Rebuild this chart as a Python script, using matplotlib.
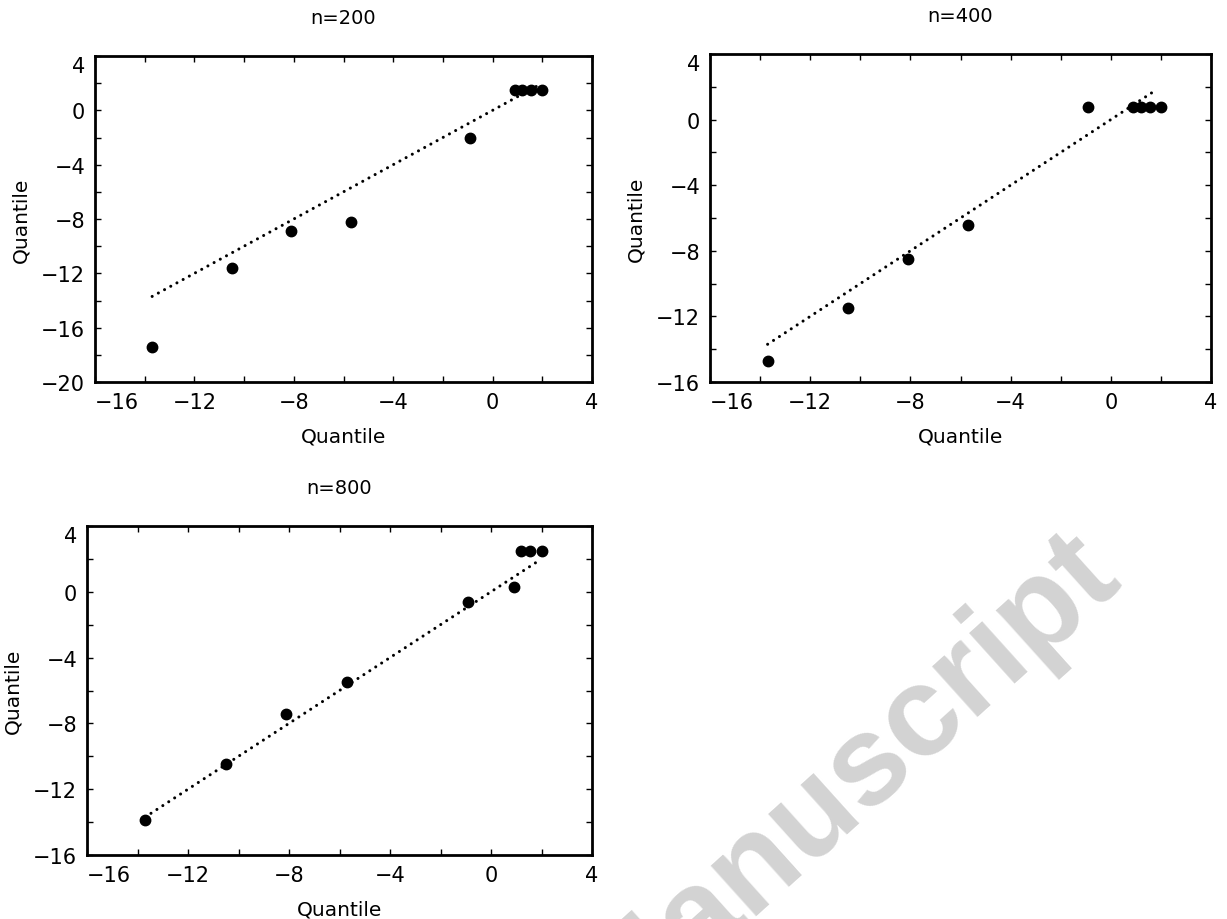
import matplotlib
matplotlib.use("Agg")
import matplotlib.pyplot as plt
from matplotlib.ticker import MultipleLocator

# ---- data ----
titles = ["n=200", "n=400", "n=800"]
x_q = [-13.7, -10.5, -8.1, -5.7, -0.9, 0.9, 1.2, 1.55, 2.0]
y_n200 = [-17.4, -11.6, -8.9, -8.2, -2.0, 1.5, 1.5, 1.5, 1.5]
y_n400 = [-14.7, -11.5, -8.5, -6.4, 0.75, 0.75, 0.75, 0.75, 0.75]
y_n800 = [-13.9, -10.45, -7.4, -5.5, -0.65, 0.3, 2.5, 2.5, 2.5]
ref_line = [-13.7, 1.85]
ylims = [(-20, 4), (-16, 4), (-16, 4)]
xlim = (-16, 4)
xticks = [-16, -12, -8, -4, 0, 4]

plt.rcParams['font.family'] = ['DejaVu Sans']

fig = plt.figure(figsize=(12.27, 9.2), dpi=100)
W, H = 1227, 920
boxes = [(95, 592, 57, 383), (710, 1211, 55, 383), (87, 592, 527, 856)]
ys = [y_n200, y_n400, y_n800]

for (l, r, t, b), title, yv, yl in zip(boxes, titles, ys, ylims):
    ax = fig.add_axes([l / W, 1 - b / H, (r - l) / W, (b - t) / H])
    ax.plot(ref_line, ref_line, color='black', lw=2.2,
            dashes=(0.01, 2.3), dash_capstyle='round')
    ax.plot(x_q, yv, 'o', color='black', ms=7.5, zorder=3)
    ax.set_xlim(*xlim)
    ax.set_ylim(*yl)
    ax.set_xticks(xticks)
    ax.set_yticks(list(range(yl[0], yl[1] + 1, 4)))
    ax.xaxis.set_minor_locator(MultipleLocator(2))
    ax.yaxis.set_minor_locator(MultipleLocator(2))
    ax.tick_params(which='both', direction='in', top=True, right=True,
                   length=4, width=1.0, labelsize=15, pad=7)
    for s in ax.spines.values():
        s.set_linewidth(2)
    ax.set_title(title, fontsize=14, pad=24)
    ax.set_xlabel("Quantile", fontsize=14.5, labelpad=11)
    ax.set_ylabel("Quantile", fontsize=14.5, labelpad=8)
    # corner labels pushed inside like the reference
    ax.xaxis.get_major_ticks()[0].label1.set_horizontalalignment('left')
    ax.yaxis.get_major_ticks()[-1].label1.set_verticalalignment('top')

# watermark
fig.text(1125 / W, 1 - 585 / H, "Accepted Manuscript", fontsize=92,
         fontweight='bold', family='Liberation Sans', color='#d3d3d3',
         rotation=42, rotation_mode='anchor', ha='right', va='baseline',
         zorder=0)

fig.savefig("out.png", dpi=100)
